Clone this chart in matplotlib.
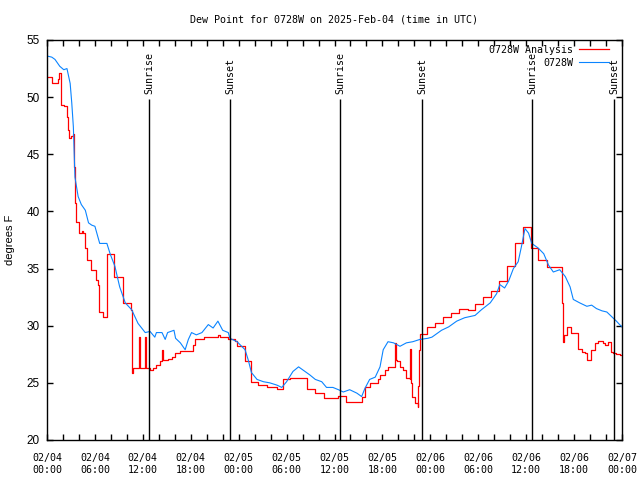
#!/usr/bin/env python3
"""
plot.py - Dew point for 0728W, analysis vs. station, with sunrise/sunset markers
"""

import pandas as pd
import matplotlib
matplotlib.use("Agg")
import matplotlib.pyplot as plt
import matplotlib.dates as mdates

START = pd.Timestamp("2025-02-04 00:00")

# hours since START, dew point (F); analysis is a stepped series
analysis_hours = [
    0.0, 0.6, 1.4, 1.55, 1.7, 2.1, 2.5, 2.6, 2.75, 3.0, 3.2, 3.4, 3.5, 3.6,
    4.0, 4.4, 4.5, 4.75, 5.0, 5.5, 6.1, 6.4, 6.5, 7.0, 7.5, 8.4, 9.5, 10.5,
    10.7, 10.8, 11.5, 11.6, 12.3, 12.45, 12.9, 13.3, 13.7, 14.1, 14.45, 14.55,
    15.2, 15.6, 16.0, 16.65, 18.3, 18.5, 19.6, 21.45, 21.65, 22.7, 23.5, 23.75,
    24.8, 25.5, 26.45, 27.5, 28.75, 29.5, 30.4, 32.5, 33.55, 34.7, 36.5, 37.5,
    39.5, 39.8, 40.5, 41.5, 41.7, 42.3, 42.7, 43.6, 43.65, 43.8, 44.2, 44.6,
    45.0, 45.4, 45.45, 45.55, 45.75, 46.1, 46.4, 46.5, 46.6, 46.7, 47.6, 48.6,
    49.6, 50.6, 51.6, 52.75, 53.6, 54.55, 55.6, 56.6, 57.6, 58.65, 59.65,
    60.55, 61.5, 62.6, 64.45, 64.6, 64.75, 65.1, 65.6, 66.5, 66.95, 67.4,
    67.6, 68.1, 68.6, 69.05, 69.6, 69.9, 70.2, 70.6, 70.9, 71.25, 71.75, 72.0,
]
analysis_dewpt = [
    51.8, 51.2, 51.6, 52.1, 49.3, 49.2, 48.3, 47.1, 46.4, 46.6, 46.8, 43.9,
    40.7, 39.1, 38.1, 38.3, 38.1, 36.8, 35.75, 34.9, 34.0, 33.6, 31.2, 30.8,
    36.3, 34.3, 32.0, 31.4, 25.9, 26.3, 29.0, 26.3, 29.0, 26.3, 26.1, 26.3,
    26.6, 26.9, 27.9, 27.0, 27.1, 27.3, 27.6, 27.8, 28.3, 28.8, 29.0, 29.2,
    29.0, 28.8, 28.7, 28.2, 26.9, 25.1, 24.8, 24.6, 24.5, 25.3, 25.4, 24.5,
    24.1, 23.7, 23.85, 23.35, 23.8, 24.6, 25.0, 25.3, 25.7, 26.1, 26.4, 28.5,
    27.0, 26.9, 26.4, 26.1, 25.4, 25.3, 28.0, 25.0, 23.8, 23.2, 22.9, 24.7,
    27.9, 29.3, 29.9, 30.2, 30.8, 31.1, 31.5, 31.4, 31.9, 32.5, 33.0, 33.9,
    35.2, 37.2, 38.6, 36.8, 35.75, 35.1, 32.0, 28.6, 29.2, 29.9, 29.4, 28.0,
    27.7, 27.6, 27.0, 27.9, 28.5, 28.7, 28.5, 28.3, 28.6, 27.7, 27.6, 27.5,
    27.4, 27.4,
]

station_hours = [
    0.0, 0.6, 1.0, 1.6, 2.1, 2.5, 2.9, 3.1, 3.3, 3.5, 3.9, 4.3, 4.8, 5.2, 5.6,
    6.0, 6.6, 7.5, 7.9, 8.5, 9.1, 9.8, 10.6, 11.4, 12.3, 12.9, 13.5, 13.7,
    14.4, 14.8, 15.1, 15.9, 16.1, 16.7, 17.3, 17.7, 18.1, 18.7, 19.4, 20.2,
    20.8, 21.4, 22.0, 22.7, 22.9, 23.8, 24.8, 25.2, 25.6, 26.3, 27.1, 27.9,
    28.8, 29.4, 30.0, 30.8, 31.5, 32.1, 32.9, 33.6, 34.4, 35.0, 35.8, 36.5,
    37.1, 37.9, 38.8, 39.4, 39.8, 40.4, 41.1, 41.7, 42.1, 42.7, 43.4, 44.2,
    45.0, 45.8, 46.7, 47.7, 48.2, 49.4, 50.3, 51.3, 52.3, 53.6, 54.4, 55.5,
    56.3, 56.7, 57.3, 57.8, 58.4, 59.0, 59.4, 59.85, 60.3, 60.7, 61.5, 62.2,
    62.8, 63.4, 64.2, 64.9, 65.5, 65.9, 66.7, 67.6, 68.2, 68.8, 69.5, 70.1,
    70.7, 71.3, 71.7, 72.0,
]
station_dewpt = [
    53.6, 53.5, 53.3, 52.7, 52.4, 52.5, 51.2, 49.5, 47.4, 43.0, 41.3, 40.6,
    40.1, 39.0, 38.8, 38.7, 37.2, 37.2, 36.3, 35.2, 33.4, 32.0, 31.4, 30.2,
    29.4, 29.5, 29.0, 29.4, 29.4, 28.8, 29.4, 29.6, 28.9, 28.5, 27.9, 28.8,
    29.4, 29.2, 29.4, 30.1, 29.8, 30.4, 29.6, 29.4, 28.9, 28.6, 27.9, 27.0,
    25.9, 25.3, 25.1, 25.0, 24.8, 24.6, 25.1, 26.0, 26.4, 26.1, 25.7, 25.3,
    25.1, 24.6, 24.6, 24.4, 24.2, 24.4, 24.1, 23.8, 24.5, 25.3, 25.5, 26.4,
    27.9, 28.6, 28.5, 28.2, 28.5, 28.6, 28.8, 28.9, 29.0, 29.6, 29.9, 30.4,
    30.7, 30.9, 31.4, 32.0, 32.8, 33.6, 33.3, 33.9, 35.0, 35.6, 36.9, 38.5,
    38.1, 37.2, 36.8, 36.3, 35.3, 34.7, 34.9, 34.3, 33.4, 32.3, 32.0, 31.7,
    31.8, 31.5, 31.3, 31.2, 30.8, 30.4, 30.1, 29.9,
]

sunrise_hours = [12.77, 36.75, 60.73]
sunset_hours = [22.95, 46.97, 70.99]


def to_times(hours):
    return START + pd.to_timedelta(hours, unit="h")


def main():
    mono = "DejaVu Sans Mono"
    sans = "Liberation Sans"

    fig = plt.figure(figsize=(6.4, 4.8), dpi=100)
    ax = fig.add_axes([47 / 640, 40 / 480, 575 / 640, 400 / 480])

    ax.plot(to_times(analysis_hours), analysis_dewpt, color="#ff0000", lw=0.9,
            drawstyle="steps-post", label="0728W Analysis")
    ax.plot(to_times(station_hours), station_dewpt, color="#0a84ff", lw=0.8,
            label="0728W")

    # sunrise / sunset markers
    for name, hrs in (("Sunrise", sunrise_hours), ("Sunset", sunset_hours)):
        for t in to_times(hrs):
            ax.vlines(t, 20, 49.8, color="black", lw=1.0)
            ax.text(t, 50.3, name, rotation=90, ha="center", va="bottom",
                    family=mono, fontsize=7.2)

    ax.set_xlim(START, START + pd.Timedelta(hours=72))
    ax.set_ylim(20, 55)
    ax.set_yticks(range(20, 56, 5))

    ax.xaxis.set_major_locator(mdates.HourLocator(byhour=[0, 6, 12, 18]))
    ax.xaxis.set_minor_locator(mdates.HourLocator(interval=2))
    ax.xaxis.set_major_formatter(mdates.DateFormatter("%m/%d\n%H:%M"))

    ax.tick_params(axis="both", which="both", direction="in", top=True,
                   right=True, length=4, width=1, color="black")
    ax.tick_params(axis="x", pad=9)
    ax.tick_params(axis="y", pad=5)
    for lbl in ax.get_xticklabels():
        lbl.set_family(mono)
        lbl.set_fontsize(7.2)
        lbl.set_linespacing(1.35)
    for lbl in ax.get_yticklabels():
        lbl.set_family(sans)
        lbl.set_fontsize(8.5)

    for sp in ax.spines.values():
        sp.set_linewidth(1.0)
        sp.set_color("black")

    ax.set_ylabel("degrees F", family=sans, fontsize=8)
    ax.yaxis.set_label_coords((15 - 47) / 575, 0.5)

    fig.text(334 / 640, 1 - 19 / 480,
             "Dew Point for 0728W on 2025-Feb-04 (time in UTC)",
             ha="center", va="center", family=mono, fontsize=7.2)

    leg = ax.legend(loc="upper right", bbox_to_anchor=(1 - 8 / 575, 1),
                    frameon=False, markerfirst=False,
                    prop={"family": mono, "size": 7.2}, handlelength=3.0,
                    handletextpad=0.6, labelspacing=0.3,
                    borderaxespad=0.4, borderpad=0.1)
    leg.set_zorder(5)

    fig.savefig("out.png", dpi=100)


if __name__ == "__main__":
    main()
